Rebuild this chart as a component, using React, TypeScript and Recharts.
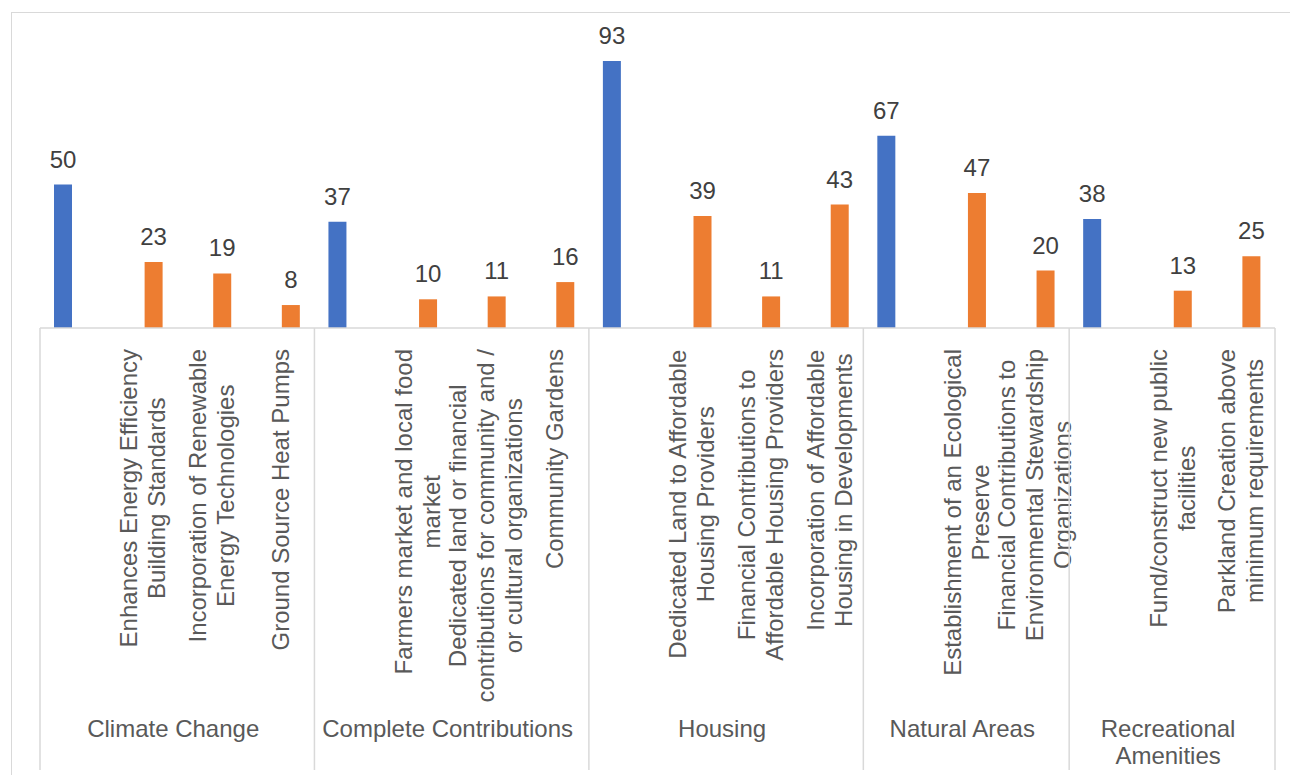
import { BarChart, Bar, XAxis, YAxis, LabelList } from "recharts";

// group totals (blue) and the measures inside each group (orange)
const groupNames = ["Climate Change", "Complete Contributions", "Housing", "Natural Areas", "Recreational\nAmenities"];
const groupTotals = [50, 37, 93, 67, 38];

const measureGroup = [0, 0, 0, 1, 1, 1, 2, 2, 2, 3, 3, 4, 4];
const measureLabels = [
  "Enhances Energy Efficiency\nBuilding Standards",
  "Incorporation of Renewable\nEnergy Technologies",
  "Ground Source Heat Pumps",
  "Farmers market and local food\nmarket",
  "Dedicated land or financial\ncontributions for community and /\nor cultural organizations",
  "Community Gardens",
  "Dedicated Land to Affordable\nHousing Providers",
  "Financial Contributions to\nAffordable Housing Providers",
  "Incorporation of Affordable\nHousing in Developments",
  "Establishment of an Ecological\nPreserve",
  "Financial Contributions to\nEnvironmental Stewardship\nOrganizations",
  "Fund/construct new public\nfacilities",
  "Parkland Creation above\nminimum requirements",
];
const measureCounts = [23, 19, 8, 10, 11, 16, 39, 11, 43, 47, 20, 13, 25];

type Row = {
  key: string;
  group: number;
  first: boolean;
  size: number;
  label: string;
  total: number | null;
  measure: number | null;
};

const rows: Row[] = [];
groupNames.forEach((_, gi) => {
  const idx = measureGroup.map((g, i) => (g === gi ? i : -1)).filter((i) => i >= 0);
  rows.push({ key: `g${gi}`, group: gi, first: true, size: idx.length + 1, label: "", total: groupTotals[gi], measure: null });
  idx.forEach((i) =>
    rows.push({ key: `m${i}`, group: gi, first: false, size: 0, label: measureLabels[i], total: null, measure: measureCounts[i] }),
  );
});

const W = 1290;
const H = 775;
const LEFT = 40;
const RIGHT = 15;
const TOP = 41;
const BASE = 328;
const AXIS_H = 440;
const STEP = (W - LEFT - RIGHT) / rows.length;
const GRID = "#d9d9d9";
const TEXT = "#595959";
const FONT = '"Liberation Sans", Arial, sans-serif';
const FS = 24;
const LINE_H = 28;

let ctx: CanvasRenderingContext2D | null = null;
function textWidth(s: string) {
  if (!ctx) ctx = document.createElement("canvas").getContext("2d");
  if (!ctx) return s.length * FS * 0.5;
  ctx.font = `${FS}px "Liberation Sans", Arial, sans-serif`;
  return ctx.measureText(s).width;
}

function AxisTick(props: any) {
  const { x, payload } = props;
  const i = typeof payload.index === "number" ? payload.index : rows.findIndex((r) => r.key === payload.value);
  const row = rows[i];
  if (!row) return null;
  const left = x - STEP / 2;
  const lines = row.label ? row.label.split("\n") : [];
  const maxW = lines.length ? Math.max(...lines.map(textWidth)) : 0;
  const groupLines = groupNames[row.group].split("\n");
  return (
    <g>
      {row.first && <line x1={left} x2={left} y1={BASE} y2={770} stroke={GRID} strokeWidth={1.5} />}
      {i === rows.length - 1 && (
        <line x1={x + STEP / 2} x2={x + STEP / 2} y1={BASE} y2={770} stroke={GRID} strokeWidth={1.5} />
      )}
      {lines.length > 0 && (
        <g transform={`translate(${x},349) rotate(-90)`}>
          {lines.map((ln, k) => (
            <text
              key={k}
              x={-maxW / 2}
              y={(k - (lines.length - 1) / 2) * LINE_H}
              textAnchor="middle"
              dominantBaseline="central"
              fill={TEXT}
              fontSize={FS}
              fontFamily={FONT}
            >
              {ln}
            </text>
          ))}
        </g>
      )}
      {row.first &&
        groupLines.map((ln, k) => (
          <text
            key={`g${k}`}
            x={left + (row.size * STEP) / 2 - 4}
            y={728 + k * 27}
            textAnchor="middle"
            dominantBaseline="central"
            fill={TEXT}
            fontSize={FS}
            fontFamily={FONT}
          >
            {ln}
          </text>
        ))}
    </g>
  );
}

export default function App() {
  return (
    <div style={{ position: "fixed", left: 0, top: 0, width: W, height: H, background: "#fff", overflow: "hidden" }}>
      <div
        style={{
          position: "absolute",
          left: 11,
          top: 12,
          width: W,
          height: H,
          borderTop: `1.5px solid ${GRID}`,
          borderLeft: `1.5px solid ${GRID}`,
        }}
      />
      <div style={{ position: "absolute", left: 0, top: 0 }}>
        <BarChart
          width={W}
          height={H}
          data={rows}
          margin={{ top: TOP, right: RIGHT, bottom: H - BASE - AXIS_H, left: LEFT }}
          barSize={18}
          barGap={4}
        >
          <XAxis
            dataKey="key"
            interval={0}
            height={AXIS_H}
            tickLine={false}
            axisLine={{ stroke: GRID, strokeWidth: 1.5 }}
            tick={<AxisTick />}
          />
          <YAxis hide domain={[0, 100]} />
          <Bar dataKey="total" fill="#4472C4" isAnimationActive={false}>
            <LabelList dataKey="total" position="top" offset={17} fill="#404040" fontSize={FS} fontFamily={FONT} />
          </Bar>
          <Bar dataKey="measure" fill="#ED7D31" isAnimationActive={false}>
            <LabelList dataKey="measure" position="top" offset={17} fill="#404040" fontSize={FS} fontFamily={FONT} />
          </Bar>
        </BarChart>
      </div>
    </div>
  );
}
